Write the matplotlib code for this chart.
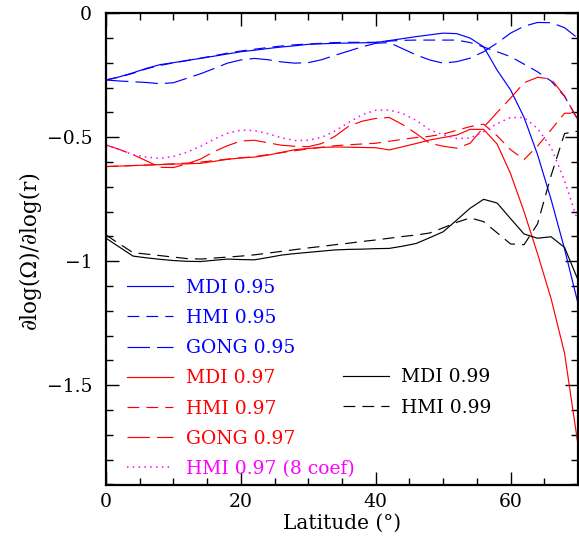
import numpy as np
import matplotlib.pyplot as plt
from matplotlib.ticker import MultipleLocator, FuncFormatter

plt.rcParams['font.family'] = ['DejaVu Serif']
plt.rcParams['mathtext.fontset'] = 'dejavuserif'

# latitude grid (deg)
lat = np.arange(0, 71, 2)

# r/R = 0.95
mdi_95 = [-0.269, -0.256, -0.240, -0.222, -0.207, -0.199, -0.190, -0.182, -0.173, -0.164,
          -0.155, -0.149, -0.142, -0.136, -0.131, -0.125, -0.123, -0.121, -0.120, -0.119,
          -0.118, -0.110, -0.102, -0.094, -0.087, -0.080, -0.082, -0.100, -0.135, -0.229,
          -0.309, -0.420, -0.570, -0.750, -0.950, -1.170]
hmi_95 = [-0.269, -0.257, -0.242, -0.224, -0.210, -0.200, -0.191, -0.181, -0.171, -0.161,
          -0.152, -0.145, -0.138, -0.132, -0.127, -0.124, -0.121, -0.118, -0.117, -0.117,
          -0.117, -0.112, -0.109, -0.108, -0.108, -0.108, -0.108, -0.118, -0.136, -0.155,
          -0.175, -0.205, -0.236, -0.273, -0.335, -0.430]
gong_95 = [-0.269, -0.273, -0.276, -0.279, -0.284, -0.280, -0.262, -0.244, -0.223, -0.201,
           -0.188, -0.182, -0.187, -0.196, -0.201, -0.199, -0.187, -0.169, -0.152, -0.135,
           -0.121, -0.118, -0.143, -0.168, -0.188, -0.201, -0.195, -0.181, -0.155, -0.120,
           -0.080, -0.052, -0.037, -0.038, -0.058, -0.101]

# r/R = 0.97
mdi_97 = [-0.618, -0.616, -0.614, -0.612, -0.610, -0.608, -0.607, -0.605, -0.597, -0.589,
          -0.583, -0.580, -0.572, -0.561, -0.550, -0.545, -0.541, -0.539, -0.540, -0.541,
          -0.542, -0.551, -0.538, -0.525, -0.511, -0.501, -0.491, -0.468, -0.468, -0.527,
          -0.647, -0.800, -0.970, -1.150, -1.370, -1.740]
hmi_97 = [-0.618, -0.616, -0.614, -0.612, -0.610, -0.607, -0.604, -0.600, -0.594, -0.588,
          -0.583, -0.578, -0.570, -0.562, -0.554, -0.547, -0.540, -0.534, -0.530, -0.527,
          -0.524, -0.516, -0.508, -0.501, -0.496, -0.487, -0.472, -0.457, -0.447, -0.494,
          -0.550, -0.590, -0.535, -0.470, -0.403, -0.403]
gong_97 = [-0.531, -0.549, -0.570, -0.595, -0.621, -0.622, -0.607, -0.588, -0.558, -0.534,
           -0.515, -0.512, -0.522, -0.532, -0.536, -0.538, -0.525, -0.495, -0.455, -0.435,
           -0.424, -0.420, -0.449, -0.485, -0.524, -0.536, -0.544, -0.524, -0.460, -0.400,
           -0.342, -0.280, -0.258, -0.265, -0.333, -0.430]
hmi_97_8c = [-0.531, -0.550, -0.570, -0.580, -0.585, -0.577, -0.560, -0.537, -0.508, -0.484,
             -0.471, -0.473, -0.485, -0.502, -0.513, -0.512, -0.500, -0.474, -0.440, -0.409,
             -0.391, -0.390, -0.404, -0.432, -0.470, -0.490, -0.505, -0.503, -0.477, -0.445,
             -0.420, -0.420, -0.465, -0.540, -0.675, -0.840]

# r/R = 0.99
mdi_99 = [-0.907, -0.943, -0.979, -0.986, -0.992, -0.997, -1.000, -1.001, -0.996, -0.991,
          -0.993, -0.994, -0.985, -0.975, -0.969, -0.964, -0.959, -0.954, -0.952, -0.951,
          -0.949, -0.948, -0.939, -0.928, -0.905, -0.881, -0.834, -0.786, -0.750, -0.765,
          -0.828, -0.890, -0.907, -0.901, -0.944, -1.075]
hmi_99 = [-0.894, -0.930, -0.965, -0.971, -0.977, -0.983, -0.989, -0.991, -0.987, -0.983,
          -0.979, -0.974, -0.967, -0.960, -0.953, -0.946, -0.940, -0.933, -0.927, -0.920,
          -0.914, -0.907, -0.900, -0.894, -0.886, -0.865, -0.843, -0.825, -0.840, -0.885,
          -0.930, -0.933, -0.849, -0.655, -0.485, -0.475]

lw = 0.85
solid = '-'
short = (0, (10, 6))
long_ = (0, (19, 6))
dots = (0, (1, 2.8))

fs = 13.5

fig = plt.figure(figsize=(5.79, 5.45), dpi=100)
ax = fig.add_axes([0.1831, 0.1101, 0.8152, 0.8655])

l1, = ax.plot(lat, mdi_95, color='blue', ls=solid, lw=lw, label='MDI 0.95')
l2, = ax.plot(lat, hmi_95, color='blue', ls=short, lw=lw, label='HMI 0.95')
l3, = ax.plot(lat, gong_95, color='blue', ls=long_, lw=lw, label='GONG 0.95')
l4, = ax.plot(lat, mdi_97, color='red', ls=solid, lw=lw, label='MDI 0.97')
l5, = ax.plot(lat, hmi_97, color='red', ls=short, lw=lw, label='HMI 0.97')
l6, = ax.plot(lat, gong_97, color='red', ls=long_, lw=lw, label='GONG 0.97')
l7, = ax.plot(lat, hmi_97_8c, color='magenta', ls=dots, lw=1.1, label='HMI 0.97 (8 coef)')
l8, = ax.plot(lat, mdi_99, color='black', ls=solid, lw=lw, label='MDI 0.99')
l9, = ax.plot(lat, hmi_99, color='black', ls=short, lw=lw, label='HMI 0.99')

ax.set_xlim(0, 70)
ax.set_ylim(-1.902, 0)

ax.xaxis.set_major_locator(MultipleLocator(20))
ax.xaxis.set_minor_locator(MultipleLocator(5))
ax.yaxis.set_major_locator(MultipleLocator(0.5))
ax.yaxis.set_minor_locator(MultipleLocator(0.1))
ax.yaxis.set_major_formatter(FuncFormatter(lambda v, p: ('%g' % v).replace('-', '\u2212')))

ax.tick_params(which='both', direction='in', top=True, right=True, width=1.0, labelsize=fs)
ax.tick_params(which='major', length=9.5)
ax.tick_params(which='minor', length=4.7)
ax.tick_params(axis='y', which='major', pad=10)
ax.tick_params(axis='x', which='major', pad=6)
for s in ax.spines.values():
    s.set_linewidth(1.6)

ax.set_xlabel('Latitude (°)', fontsize=14.5)
ax.set_ylabel('∂log(Ω)/∂log(r)', fontsize=15.5)
ax.xaxis.set_label_coords(0.5, -0.062)
ax.yaxis.set_label_coords(-0.138, 0.5)

leg_kw = dict(loc='upper left', frameon=False, fontsize=fs, handlelength=2.45,
              handletextpad=0.67, labelspacing=0.65, borderpad=0, borderaxespad=0)
leg1 = ax.legend(handles=[l1, l2, l3, l4, l5, l6, l7], bbox_to_anchor=(0.0445, 0.437),
                 labelcolor=['blue', 'blue', 'blue', 'red', 'red', 'red', 'magenta'], **leg_kw)
ax.add_artist(leg1)
ax.legend(handles=[l8, l9], bbox_to_anchor=(0.502, 0.247), labelcolor='black', **leg_kw)

fig.savefig('out.png', dpi=100)
